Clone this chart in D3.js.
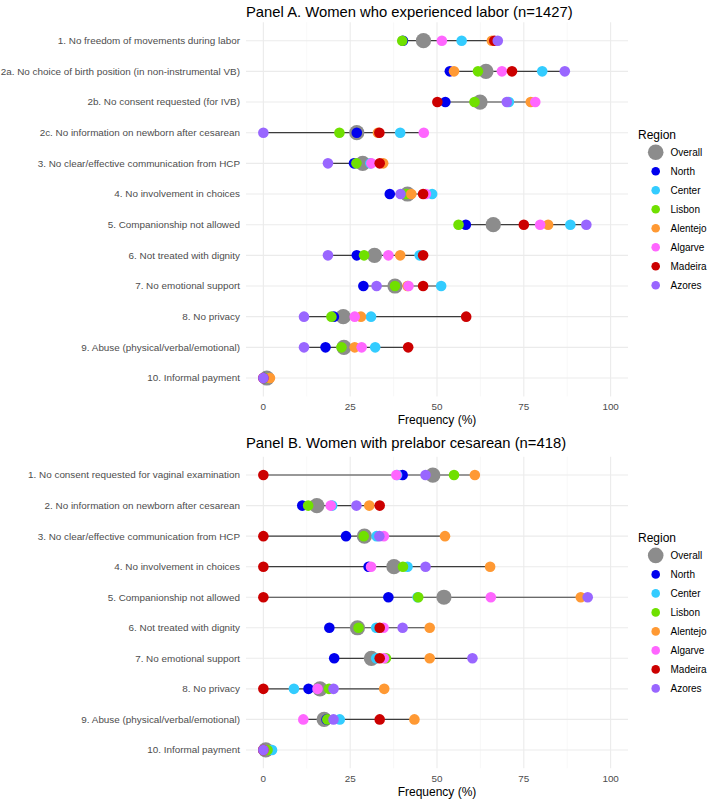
<!DOCTYPE html>
<html><head><meta charset="utf-8">
<script src="https://cdn.jsdelivr.net/npm/d3@7"></script>
<style>
body{margin:0;background:#fff}
svg{display:block}
text{font-family:"Liberation Sans",Arial,Helvetica,sans-serif}
</style>
</head><body>
<svg id="chart" width="709" height="801"></svg>
<script>
// ---------- data ----------
const regions = ["Overall","North","Center","Lisbon","Alentejo","Algarve","Madeira","Azores"];
const regionColors = ["#8C8C8C","#0000EE","#33CCFF","#70E000","#FF9933","#FF66FF","#CC0000","#9966FF"];
const xTicks = [0,25,50,75,100];
const xMinor = [12.5,37.5,62.5,87.5];

const titleA = "Panel A. Women who experienced labor (n=1427)";
const catsA = [
  "1. No freedom of movements during labor",
  "2a. No choice of birth position (in non-instrumental VB)",
  "2b. No consent requested (for IVB)",
  "2c. No information on newborn after cesarean",
  "3. No clear/effective communication from HCP",
  "4. No involvement in choices",
  "5. Companionship not allowed",
  "6. Not treated with dignity",
  "7. No emotional support",
  "8. No privacy",
  "9. Abuse (physical/verbal/emotional)",
  "10. Informal payment"
];
const overallA  = [46.1, 64.1, 62.4, 26.9, 28.6, 41.5, 66.2, 32.0, 37.9, 23.0, 23.2, 1.0];
const northA    = [40.2, 53.7, 52.4, 26.9, 26.1, 36.4, 58.3, 26.9, 28.8, 20.3, 17.9, 0.3];
const centerA   = [57.1, 80.3, 70.7, 39.4, 30.8, 48.6, 88.4, 45.0, 51.2, 31.0, 32.2, 0.5];
const lisbonA   = [40.0, 61.8, 60.8, 21.9, 26.8, 41.2, 56.2, 29.0, 37.9, 19.6, 22.5, 0.6];
const alentejoA = [65.8, 54.9, 77.0, 33.0, 34.5, 42.6, 82.0, 39.4, 41.5, 28.1, 26.3, 1.9];
const algarveA  = [51.4, 68.7, 78.3, 46.2, 31.1, 46.8, 79.7, 36.0, 41.8, 26.3, 28.3, 0.0];
const madeiraA  = [66.5, 71.6, 50.1, 33.4, 33.5, 46.0, 75.0, 46.0, 46.0, 58.4, 41.7, 0.0];
const azoresA   = [67.5, 86.8, 70.1, 0.0, 18.6, 39.5, 93.0, 18.6, 32.6, 11.7, 11.7, 0.0];

const titleB = "Panel B. Women with prelabor cesarean (n=418)";
const catsB = [
  "1. No consent requested for vaginal examination",
  "2. No information on newborn after cesarean",
  "3. No clear/effective communication from HCP",
  "4. No involvement in choices",
  "5. Companionship not allowed",
  "6. Not treated with dignity",
  "7. No emotional support",
  "8. No privacy",
  "9. Abuse (physical/verbal/emotional)",
  "10. Informal payment"
];
const overallB  = [48.8, 15.4, 29.1, 37.6, 52.0, 27.1, 31.1, 16.3, 17.5, 0.7];
const northB    = [40.1, 11.2, 23.8, 30.3, 36.0, 19.0, 20.4, 13.0, 18.2, 0.0];
const centerB   = [38.5, 19.8, 32.6, 41.5, 44.4, 32.5, 32.5, 8.8, 22.0, 2.5];
const lisbonB   = [54.9, 12.9, 28.9, 40.2, 44.6, 27.4, 35.3, 18.9, 18.4, 1.2];
const alentejoB = [60.9, 30.5, 52.3, 65.3, 91.4, 47.9, 47.9, 34.8, 43.5, 0.0];
const algarveB  = [38.3, 19.4, 34.7, 31.0, 65.5, 34.6, 34.7, 15.6, 11.5, 0.0];
const madeiraB  = [0.0, 33.5, 0.0, 0.0, 0.0, 33.5, 33.5, 0.0, 33.5, 0.0];
const azoresB   = [46.7, 26.8, 33.4, 46.7, 93.4, 40.1, 60.2, 20.2, 20.2, 0.0];

const xLabel = "Frequency (%)";
const legendTitle = "Region";

// ---------- drawing ----------
const svg = d3.select("#chart");
const left = 246, right = 628;
const x = d3.scaleLinear().domain([-5,105]).range([left,right]);
const color = d3.scaleOrdinal().domain(regions).range(regionColors);

function panel(cfg){
  const {title, cats, series, top, bottom, titleY} = cfg;
  const g = svg.append("g");
  const y = d3.scalePoint().domain(cats).range([top,bottom]).padding(0.6);

  // grid
  g.selectAll(".vmin").data(xMinor).enter().append("line")
    .attr("x1",d=>x(d)).attr("x2",d=>x(d)).attr("y1",top).attr("y2",bottom)
    .attr("stroke","#F3F3F3").attr("stroke-width",0.6);
  g.selectAll(".vmaj").data(xTicks).enter().append("line")
    .attr("x1",d=>x(d)).attr("x2",d=>x(d)).attr("y1",top).attr("y2",bottom)
    .attr("stroke","#EBEBEB").attr("stroke-width",1.1);
  g.selectAll(".hmaj").data(cats).enter().append("line")
    .attr("x1",left).attr("x2",right).attr("y1",d=>y(d)).attr("y2",d=>y(d))
    .attr("stroke","#EBEBEB").attr("stroke-width",1.1);

  // y labels
  g.selectAll(".ylab").data(cats).enter().append("text")
    .attr("x",left-6).attr("y",d=>y(d)).attr("dy","0.35em")
    .attr("text-anchor","end").attr("font-size",9.9).attr("fill","#4D4D4D")
    .text(d=>d);

  // x ticks
  g.selectAll(".xlab").data(xTicks).enter().append("text")
    .attr("x",d=>x(d)).attr("y",bottom+13.5)
    .attr("text-anchor","middle").attr("font-size",9.9).attr("fill","#4D4D4D")
    .text(d=>d);
  g.append("text").attr("x",(left+right)/2).attr("y",bottom+27.5)
    .attr("text-anchor","middle").attr("font-size",12).attr("fill","#000")
    .text(xLabel);

  // title
  g.append("text").attr("x",left).attr("y",titleY)
    .attr("font-size",14.8).attr("fill","#000").text(title);

  // rows
  const rows = cats.map((c,i)=>({cat:c, vals: series.map(s=>s[i])}));
  g.selectAll(".seg").data(rows).enter().append("line")
    .attr("x1",d=>x(d3.min(d.vals))).attr("x2",d=>x(d3.max(d.vals)))
    .attr("y1",d=>y(d.cat)).attr("y2",d=>y(d.cat))
    .attr("stroke","#3C3C3C").attr("stroke-width",1.15);
  rows.forEach(r=>{
    r.vals.forEach((v,j)=>{
      g.append("circle").attr("cx",x(v)).attr("cy",y(r.cat))
        .attr("r", j===0 ? 7.6 : 5.3).attr("fill",color(regions[j]));
    });
  });

  // legend, centred vertically on the panel
  const step = 19;
  const firstY = (top+bottom)/2 - 57.1;
  const lg = g.append("g");
  lg.append("text").attr("x",638).attr("y",firstY-13).attr("font-size",12).attr("fill","#000").text(legendTitle);
  regions.forEach((rname,j)=>{
    const cy = firstY + j*step;
    lg.append("circle").attr("cx",655.7).attr("cy",cy).attr("r", j===0?7.8:4.3).attr("fill",color(rname));
    lg.append("text").attr("x",670.5).attr("y",cy).attr("dy","0.35em").attr("font-size",10).attr("fill","#000").text(rname);
  });
}

panel({title:titleA, cats:catsA,
  series:[overallA,northA,centerA,lisbonA,alentejoA,algarveA,madeiraA,azoresA],
  top:22.3, bottom:396.4, titleY:17});
panel({title:titleB, cats:catsB,
  series:[overallB,northB,centerB,lisbonB,alentejoB,algarveB,madeiraB,azoresB],
  top:456.7, bottom:768.3, titleY:448});
</script>
</body></html>
